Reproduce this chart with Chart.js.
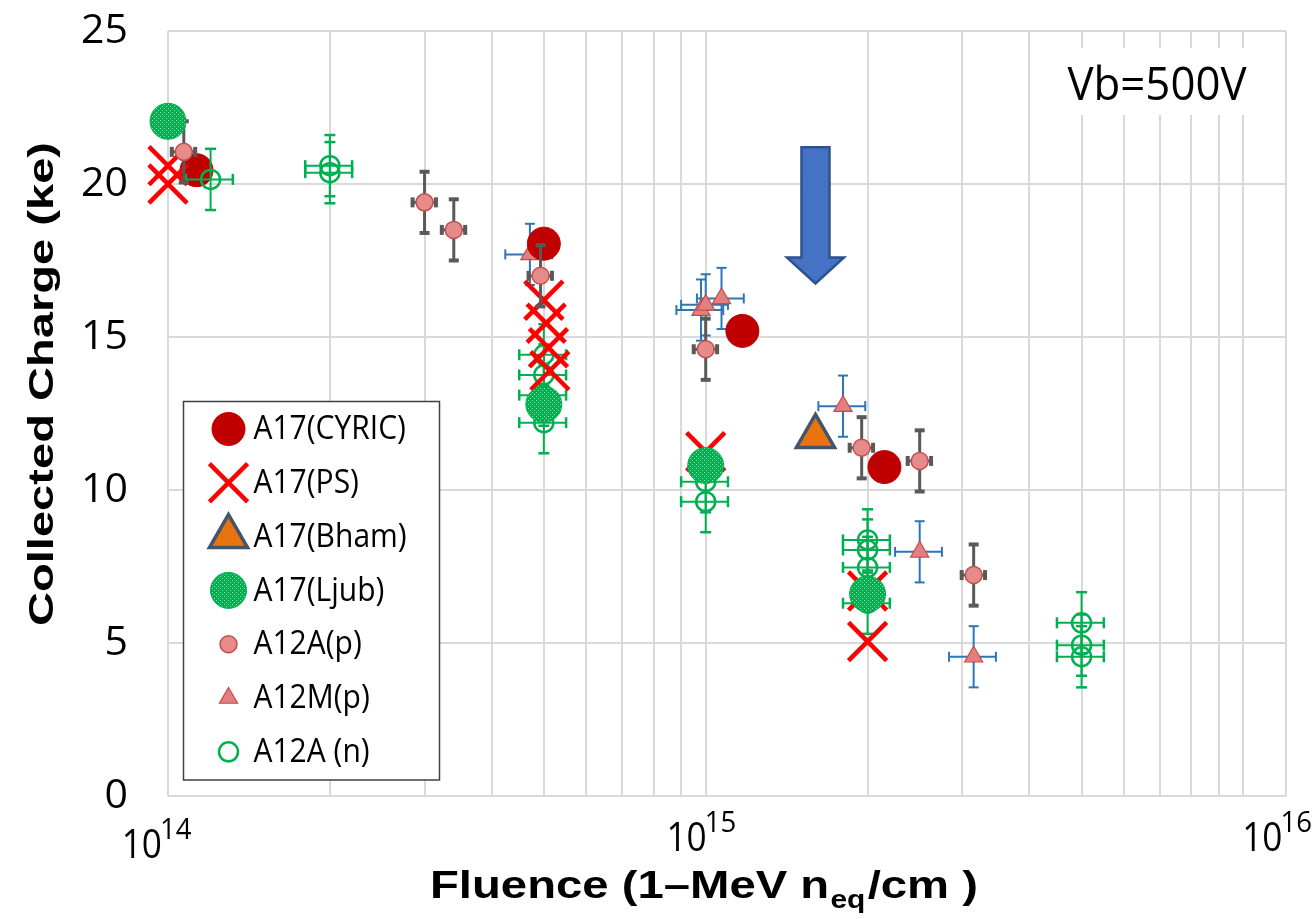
<!DOCTYPE html>
<html>
<head>
<meta charset="utf-8">
<style>
  html, body { margin: 0; padding: 0; background: #ffffff; }
  #wrap { width: 1314px; height: 919px; position: relative; }
</style>
<script src="https://cdn.jsdelivr.net/npm/chart.js@4.4.1/dist/chart.umd.min.js"></script>
</head>
<body>
<div id="wrap"><canvas id="c" width="1314" height="919"></canvas></div>
<script>
// ---------------- DATA ----------------
const cyricFluence = [1.13e14, 5.0e14, 1.17e15, 2.15e15];
const cyricCharge  = [20.45, 18.05, 15.2, 10.75];

const psFluence = [1.0e14, 1.0e14, 5.0e14, 5.05e14, 5.1e14, 5.13e14, 1.0e15, 2.0e15, 2.0e15];
const psCharge  = [20.6, 20.0, 16.2, 15.45, 14.65, 13.9, 11.25, 6.7, 5.05];

const bhamFluence = [1.6e15];
const bhamCharge  = [11.75];

const ljubFluence = [1.0e14, 5.0e14, 1.0e15, 2.0e15];
const ljubCharge  = [22.05, 12.8, 10.8, 6.6];

const a12apFluence    = [1.07e14, 3.0e14, 3.4e14, 4.93e14, 1.0e15, 1.95e15, 2.5e15, 3.15e15];
const a12apCharge     = [21.05, 19.4, 18.5, 17.0, 14.6, 11.38, 10.95, 7.22];
const a12apChargeErr  = [1.0, 1.0, 1.0, 1.0, 1.0, 1.0, 1.0, 1.0];
const a12apFluenceErr = [0.05, 0.05, 0.05, 0.05, 0.05, 0.05, 0.05, 0.05];

const a12mpFluence    = [4.71e14, 0.98e15, 1.0e15, 1.07e15, 1.8e15, 2.5e15, 3.15e15];
const a12mpCharge     = [17.7, 15.88, 16.05, 16.26, 12.74, 7.98, 4.55];
const a12mpChargeErr  = [1.0, 1.0, 1.0, 1.0, 1.0, 1.0, 1.0];
const a12mpFluenceErr = [0.1, 0.1, 0.1, 0.1, 0.1, 0.1, 0.1];

const a12anFluence    = [1.2e14, 2.0e14, 2.0e14, 5.0e14, 5.0e14, 5.0e14, 5.0e14, 1.0e15, 1.0e15,
                         2.0e15, 2.0e15, 2.0e15, 2.0e15, 5.0e15, 5.0e15, 5.0e15];
const a12anCharge     = [20.15, 20.6, 20.37, 14.42, 13.76, 13.1, 12.2, 10.27, 9.62,
                         8.37, 8.04, 7.47, 6.3, 5.66, 4.93, 4.55];
const a12anChargeErr  = [1.0, 1.0, 1.0, 1.0, 1.0, 1.0, 1.0, 1.0, 1.0, 1.0, 1.0, 1.0, 1.0, 1.0, 1.0, 1.0];
const a12anFluenceErr = [0.1, 0.1, 0.1, 0.1, 0.1, 0.1, 0.1, 0.1, 0.1, 0.1, 0.1, 0.1, 0.1, 0.1, 0.1, 0.1];

// axis ticks / labels
const yTickStep = 5;
const yMin = 0, yMax = 25;
const xMin = 1e14, xMax = 1.2e16;
const xGridFluence = [1e14, 2e14, 3e14, 4e14, 5e14, 6e14, 7e14, 8e14, 9e14,
                      1e15, 2e15, 3e15, 4e15, 5e15, 6e15, 7e15, 8e15, 9e15, 1e16, 1.2e16];
const xLabelFluence  = [1e14, 1e15, 1e16];
const xLabelBase     = ['10', '10', '10'];
const xLabelExponent = ['14', '15', '16'];

// annotations
const annotationText = 'Vb=500V';
const arrowFluence = 1.6e15;
const arrowTopCharge = 21.2, arrowNeckCharge = 17.6, arrowTipCharge = 16.75;

const yTitle = 'Collected Charge (ke)';
const xTitleParts = ['Fluence (1\u2013MeV n', 'eq', '/cm )'];

// ---------------- STYLE ----------------
const canvas = document.getElementById('c');
const mainCtx = canvas.getContext('2d');
const pc = document.createElement('canvas');
pc.width = 4; pc.height = 4;
const pg = pc.getContext('2d');
pg.fillStyle = '#00B050'; pg.fillRect(0, 0, 4, 4);
pg.fillStyle = '#8FDFAE'; pg.fillRect(0, 0, 1, 1); pg.fillRect(2, 2, 1, 1);
const ljubFill = mainCtx.createPattern(pc, 'repeat');

const toPts = (xs, ys) => xs.map((x, i) => ({ x: x, y: ys[i] }));

function ds(label, xs, ys, st) {
  return Object.assign({
    label: label,
    data: toPts(xs, ys),
    pointStyle: st.shape,
    pointRadius: st.r, pointHoverRadius: st.r,
    backgroundColor: st.fill, pointBackgroundColor: st.fill,
    borderColor: st.line, pointBorderColor: st.line,
    borderWidth: st.bw, pointBorderWidth: st.bw,
    order: st.z,
    clip: false
  }, st.extra || {});
}

const datasets = [
  ds('A17(CYRIC)', cyricFluence, cyricCharge, { shape: 'circle', r: 16.5, fill: '#C00000', line: '#C00000', bw: 1, z: 5 }),
  ds('A17(PS)', psFluence, psCharge, { shape: 'crossRot', r: 27, fill: '#FF0000', line: '#FF0000', bw: 4.5, z: 3 }),
  ds('A17(Bham)', bhamFluence, bhamCharge, { shape: 'triangle', r: 22, fill: '#E8740F', line: '#44546A', bw: 3.5, z: 3 }),
  ds('A17(Ljub)', ljubFluence, ljubCharge, { shape: 'circle', r: 18, fill: ljubFill, line: '#00B050', bw: 1, z: 1 }),
  ds('A12A(p)', a12apFluence, a12apCharge, { shape: 'circle', r: 8.5, fill: '#E68A8A', line: '#C0504D', bw: 1.5, z: 2,
     extra: { yErr: a12apChargeErr, xErrRel: a12apFluenceErr, errStyle: { color: '#595959', width: 3, cap: 5, capWidth: 4 } } }),
  ds('A12M(p)', a12mpFluence, a12mpCharge, { shape: 'triangle', r: 10.5, fill: '#E57E7E', line: '#C0504D', bw: 1.2, z: 6,
     extra: { yErr: a12mpChargeErr, xErrRel: a12mpFluenceErr, errStyle: { color: '#2E75B6', width: 2, cap: 5, capWidth: 2 } } }),
  ds('A12A (n)', a12anFluence, a12anCharge, { shape: 'circle', r: 9.5, fill: 'rgba(0,0,0,0)', line: '#00B050', bw: 2.5, z: 4,
     extra: { yErr: a12anChargeErr, xErrRel: a12anFluenceErr, errStyle: { color: '#00B050', width: 2, cap: 5.5, capWidth: 2.5 } } })
];

function drawMarker(ctx, d, x, y) {
  ctx.save();
  ctx.fillStyle = d.pointBackgroundColor;
  ctx.strokeStyle = d.pointBorderColor;
  ctx.lineWidth = d.pointBorderWidth;
  Chart.helpers.drawPoint(ctx, {
    pointStyle: d.pointStyle, radius: d.pointRadius, borderWidth: d.pointBorderWidth, rotation: 0
  }, x, y);
  ctx.restore();
}

function seg(ctx, x1, y1, x2, y2) {
  ctx.beginPath(); ctx.moveTo(x1, y1); ctx.lineTo(x2, y2); ctx.stroke();
}

const customDraw = {
  id: 'customDraw',
  beforeDatasetsDraw(chart) {
    const ctx = chart.ctx, a = chart.chartArea;
    ctx.save();
    ctx.fillStyle = '#ffffff';
    ctx.fillRect(a.right - 246, a.top + 17, 230, 67);
    ctx.fillStyle = '#000000';
    ctx.font = '45px "Open Sans"';
    ctx.textAlign = 'center';
    ctx.textBaseline = 'alphabetic';
    const w = ctx.measureText(annotationText).width;
    ctx.translate(a.right - 129, a.top + 69);
    ctx.scale(179 / w, 1);
    ctx.fillText(annotationText, 0, 0);
    ctx.restore();
  },
  beforeDatasetDraw(chart, args) {
    const d = chart.data.datasets[args.index];
    if (!d.yErr) return;
    const ctx = chart.ctx, xs = chart.scales.x, ys = chart.scales.y, st = d.errStyle;
    ctx.save();
    ctx.strokeStyle = st.color;
    ctx.lineCap = 'butt';
    d.data.forEach((p, i) => {
      const px = xs.getPixelForValue(p.x), py = ys.getPixelForValue(p.y);
      const ey = d.yErr[i], ex = d.xErrRel[i];
      if (ey) {
        const y1 = ys.getPixelForValue(p.y + ey), y2 = ys.getPixelForValue(p.y - ey);
        ctx.lineWidth = st.width; seg(ctx, px, y1, px, y2);
        ctx.lineWidth = st.capWidth;
        seg(ctx, px - st.cap, y1, px + st.cap, y1);
        seg(ctx, px - st.cap, y2, px + st.cap, y2);
      }
      if (ex) {
        const x1 = xs.getPixelForValue(p.x * (1 - ex)), x2 = xs.getPixelForValue(p.x * (1 + ex));
        ctx.lineWidth = st.width; seg(ctx, x1, py, x2, py);
        ctx.lineWidth = st.capWidth;
        seg(ctx, x1, py - st.cap, x1, py + st.cap);
        seg(ctx, x2, py - st.cap, x2, py + st.cap);
      }
    });
    ctx.restore();
  },
  afterDatasetsDraw(chart) {
    const ctx = chart.ctx, xs = chart.scales.x, ys = chart.scales.y;
    const xc = xs.getPixelForValue(arrowFluence);
    const yT = ys.getPixelForValue(arrowTopCharge);
    const yN = ys.getPixelForValue(arrowNeckCharge);
    const yP = ys.getPixelForValue(arrowTipCharge);
    ctx.save();
    ctx.beginPath();
    ctx.moveTo(xc - 14, yT); ctx.lineTo(xc + 14, yT); ctx.lineTo(xc + 14, yN);
    ctx.lineTo(xc + 28.5, yN); ctx.lineTo(xc, yP); ctx.lineTo(xc - 28.5, yN);
    ctx.lineTo(xc - 14, yN); ctx.closePath();
    ctx.fillStyle = '#4472C4'; ctx.fill();
    ctx.strokeStyle = '#2F528F'; ctx.lineWidth = 2.5; ctx.lineJoin = 'miter'; ctx.stroke();
    ctx.restore();

    // legend
    const lx = 183.5, ly = 401.5, lw = 256, lh = 378.5;
    ctx.save();
    ctx.fillStyle = '#ffffff';
    ctx.fillRect(lx, ly, lw, lh);
    ctx.strokeStyle = '#404040'; ctx.lineWidth = 1.5;
    ctx.strokeRect(lx, ly, lw, lh);
    ctx.textAlign = 'left';
    ctx.textBaseline = 'middle';
    chart.data.datasets.forEach((d, i) => {
      const yy = ly + 27.5 + i * 53.8;
      drawMarker(ctx, d, lx + 45, yy);
      ctx.save();
      ctx.fillStyle = '#000000';
      ctx.font = '30px "Open Sans"';
      ctx.translate(lx + 70, yy + 1);
      ctx.scale(1, 1.08);
      ctx.fillText(d.label, 0, 0);
      ctx.restore();
    });
    ctx.restore();
  },
  afterDraw(chart) {
    const ctx = chart.ctx, xs = chart.scales.x, a = chart.chartArea;
    const nudgeX = [-6, 1, 39];
    const nudgeY = [62, 55, 55];
    ctx.save();
    ctx.fillStyle = '#000000';
    xLabelFluence.forEach((v, i) => {
      const px = xs.getPixelForValue(v) + nudgeX[i];
      ctx.save();
      ctx.font = '40px "Open Sans"';
      ctx.textAlign = 'right';
      ctx.textBaseline = 'alphabetic';
      ctx.translate(px, a.bottom + nudgeY[i]);
      ctx.scale(0.88, 1);
      ctx.fillText(xLabelBase[i], 0, 0);
      ctx.restore();
      ctx.save();
      ctx.font = '29px "Open Sans"';
      ctx.textAlign = 'left';
      ctx.textBaseline = 'alphabetic';
      ctx.translate(px - 2, a.bottom + nudgeY[i] - 19);
      ctx.scale(0.95, 1);
      ctx.fillText(xLabelExponent[i], 0, 0);
      ctx.restore();
    });

    // y title
    ctx.save();
    ctx.font = 'bold 35px "Liberation Sans", Arial, sans-serif';
    const wy = ctx.measureText(yTitle).width;
    ctx.translate(53, 384);
    ctx.rotate(-Math.PI / 2);
    ctx.scale(484 / wy, 1);
    ctx.textAlign = 'center';
    ctx.textBaseline = 'alphabetic';
    ctx.fillText(yTitle, 0, 0);
    ctx.restore();

    // x title with subscript
    ctx.save();
    const bigF = 'bold 39.5px "Liberation Sans", Arial, sans-serif';
    const subF = 'bold 25px "Liberation Sans", Arial, sans-serif';
    ctx.font = bigF; const w0 = ctx.measureText(xTitleParts[0]).width;
    ctx.font = subF; const w1 = ctx.measureText(xTitleParts[1]).width;
    ctx.font = bigF; const w2 = ctx.measureText(xTitleParts[2]).width;
    const total = w0 + w1 + 3 + w2;
    const k = 548 / total;
    ctx.translate(430, 898);
    ctx.scale(k, 1);
    ctx.textAlign = 'left';
    ctx.textBaseline = 'alphabetic';
    ctx.font = bigF; ctx.fillText(xTitleParts[0], 0, 0);
    ctx.font = subF; ctx.fillText(xTitleParts[1], w0 + 1, 10);
    ctx.font = bigF; ctx.fillText(xTitleParts[2], w0 + w1 + 3, 0);
    ctx.restore();
    ctx.restore();
  }
};

new Chart(canvas, {
  type: 'scatter',
  data: { datasets: datasets },
  options: {
    responsive: false,
    animation: false,
    events: [],
    devicePixelRatio: 1,
    layout: { padding: { top: 31, right: 28, left: 0, bottom: 0 }, autoPadding: false },
    plugins: { legend: { display: false }, tooltip: { enabled: false }, title: { display: false } },
    scales: {
      x: {
        type: 'logarithmic',
        min: xMin, max: xMax,
        afterBuildTicks: (s) => { s.ticks = xGridFluence.map(v => ({ value: v })); },
        ticks: { display: false },
        grid: { color: '#D9D9D9', lineWidth: 2, drawTicks: false },
        border: { display: false },
        afterFit: (s) => { s.height = 123; s.paddingLeft = 0; s.paddingRight = 0; }
      },
      y: {
        min: yMin, max: yMax,
        ticks: { stepSize: yTickStep, font: { family: 'Open Sans', size: 41 }, color: '#000000', padding: 40 },
        grid: { color: '#D9D9D9', lineWidth: 2, drawTicks: false },
        border: { display: false },
        afterFit: (s) => { s.width = 168; s.paddingTop = 0; s.paddingBottom = 0; }
      }
    }
  },
  plugins: [customDraw]
});
</script>
</body>
</html>
